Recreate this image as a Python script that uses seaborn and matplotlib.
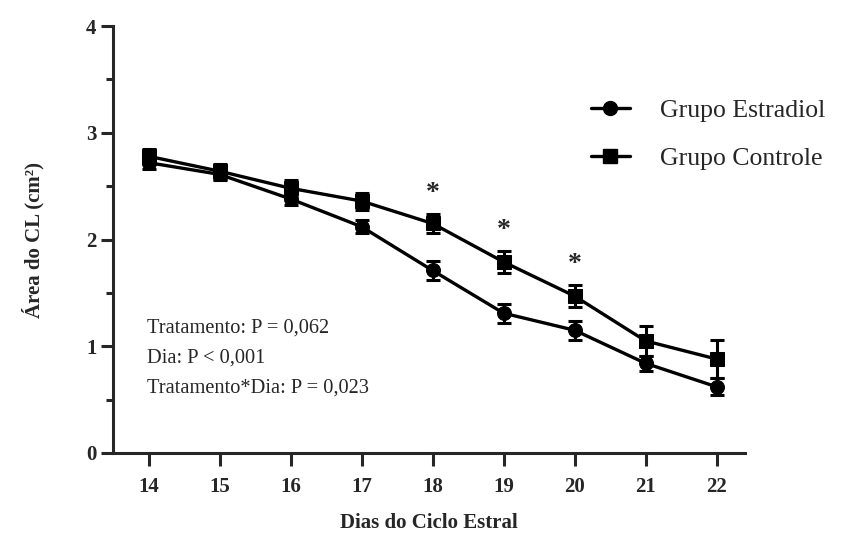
import matplotlib
matplotlib.use("Agg")
import matplotlib.pyplot as plt
import seaborn as sns
import pandas as pd
from matplotlib.ticker import MultipleLocator
from matplotlib.lines import Line2D

# Corpus luteum area per day of the oestrous cycle (mean ± SEM)
dias = [14, 15, 16, 17, 18, 19, 20, 21, 22]
estradiol = [2.72, 2.61, 2.38, 2.12, 1.71, 1.31, 1.15, 0.84, 0.62]
estradiol_sem = [0.06, 0.05, 0.06, 0.06, 0.09, 0.09, 0.09, 0.07, 0.08]
controle = [2.78, 2.64, 2.48, 2.36, 2.15, 1.79, 1.47, 1.05, 0.88]
controle_sem = [0.07, 0.07, 0.08, 0.08, 0.09, 0.10, 0.10, 0.14, 0.18]
dias_signif = [18, 19, 20]
grupos = ["Grupo Estradiol", "Grupo Controle"]
estatisticas = ["Tratamento: P = 0,062", "Dia: P < 0,001", "Tratamento*Dia: P = 0,023"]

sns.set_style("ticks")
plt.rcParams["font.family"] = ["Liberation Serif", "DejaVu Serif"]

df = pd.concat([
    pd.DataFrame({"dia": dias, "area": estradiol, "grupo": grupos[0]}),
    pd.DataFrame({"dia": dias, "area": controle, "grupo": grupos[1]}),
])

fig = plt.figure(figsize=(8.53, 5.56), dpi=100)
ax = fig.add_axes([113 / 853, 1 - 453 / 556, (745 - 113) / 853, (453 - 26) / 556])

lw = 2.4
for vals, sem in ((estradiol, estradiol_sem), (controle, controle_sem)):
    ax.errorbar(dias, vals, yerr=sem, fmt="none", ecolor="black",
                elinewidth=2.2, capsize=5, capthick=2.2, zorder=2)

sns.lineplot(data=df, x="dia", y="area", hue="grupo", style="grupo",
             markers={grupos[0]: "o", grupos[1]: "s"}, dashes=False,
             palette={grupos[0]: "black", grupos[1]: "black"},
             linewidth=lw, markersize=10, markeredgecolor="black",
             ax=ax, legend=False, zorder=3)

# significance markers above the control group
for d in dias_signif:
    i = dias.index(d)
    ax.annotate("*", (d, controle[i] + controle_sem[i]), xytext=(0, 6),
                textcoords="offset points", ha="center", va="bottom",
                fontsize=20, fontweight="bold")

ax.set_xlim(13.5, 22.4)
ax.set_ylim(0, 4)
ax.set_xticks(dias)
ax.yaxis.set_major_locator(MultipleLocator(1))
ax.yaxis.set_minor_locator(MultipleLocator(0.5))
sns.despine(ax=ax)
for s in ("left", "bottom"):
    ax.spines[s].set_linewidth(2.2)
ax.tick_params(axis="both", which="major", width=2.2, length=9,
               labelsize=15, pad=8)
ax.tick_params(axis="y", which="minor", width=2.2, length=5)
ax.tick_params(axis="y", which="major", pad=3)
for lab in ax.get_xticklabels() + ax.get_yticklabels():
    lab.set_fontweight("bold")

ax.set_xlabel("Dias do Ciclo Estral", fontsize=15, fontweight="bold", labelpad=12)
ax.set_ylabel("Área do CL (cm²)", fontsize=15, fontweight="bold", labelpad=30)

ax.text(147 / 853, 1 - 358 / 556, "\n".join(estatisticas), transform=fig.transFigure,
        ha="left", va="center", fontsize=14.7, linespacing=1.8)

handles = [Line2D([], [], color="black", lw=lw, marker=m, markersize=10)
           for m in ("o", "s")]
fig.legend(handles, grupos, loc="upper left", bbox_to_anchor=(568 / 853, 1 - 76 / 556),
           frameon=False, fontsize=18.5, handlelength=1.5, labelspacing=0.95,
           handletextpad=1.2)

fig.savefig("out.png", dpi=100)
